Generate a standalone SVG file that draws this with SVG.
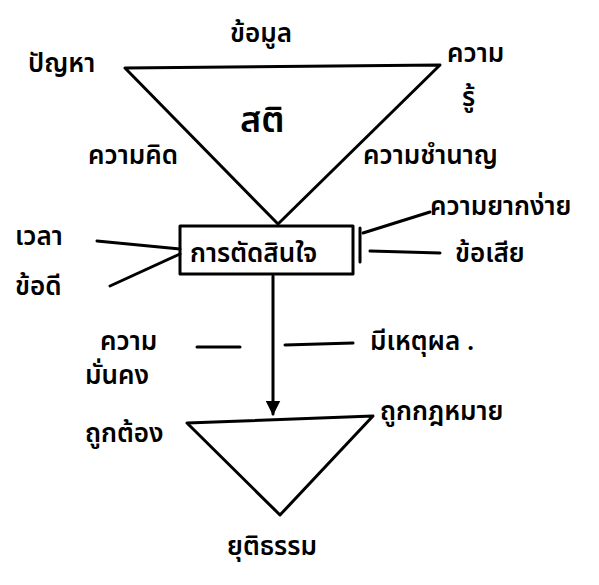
<svg xmlns="http://www.w3.org/2000/svg" width="599" height="585" viewBox="0 0 599 585">
<defs>
<style>
.t{font-family:"Noto Sans","Noto Sans Thai",sans-serif;font-size:26px;font-weight:600;fill:#000}
.l{stroke:#000;stroke-width:3;fill:none;stroke-linecap:round;stroke-linejoin:round}
</style>
<marker id="ah" viewBox="0 0 10 10" refX="9" refY="5" markerWidth="5" markerHeight="5" orient="auto"><path d="M0,0 L10,5 L0,10 z" fill="#000"/></marker>
</defs>
<rect width="599" height="585" fill="#fff"/>
<g id="connectors">
<path class="l" d="M125,68 L440,65 L278,224 Z"/>
<line class="l" x1="97" y1="241" x2="180" y2="249"/>
<line class="l" x1="110" y1="286" x2="180" y2="254"/>
<line class="l" x1="363" y1="233" x2="430" y2="212"/>
<line class="l" x1="370" y1="251" x2="440" y2="253"/>
<line class="l" x1="273" y1="276" x2="273" y2="414" marker-end="url(#ah)"/>
<line class="l" x1="197" y1="347" x2="240" y2="347"/>
<line class="l" x1="285" y1="345" x2="353" y2="343"/>
<path class="l" d="M187,423 L373,416 L280,515 Z"/>
</g>
<g id="n-problem"><text class="t" x="28" y="72">ปัญหา</text></g>
<g id="n-info"><text class="t" x="230" y="42">ข้อมูล</text></g>
<g id="n-knowledge"><text class="t" x="447" y="62">ความ</text><text class="t" x="462" y="106">รู้</text></g>
<g id="n-center"><text class="t" x="240" y="132" style="font-size:36px">สติ</text></g>
<g id="n-thinking"><text class="t" x="88" y="164">ความคิด</text></g>
<g id="n-expertise"><text class="t" x="363" y="164">ความชำนาญ</text></g>
<g id="n-decision">
<rect class="l" x="180" y="226" width="173" height="48"/>
<line class="l" x1="360" y1="228" x2="360" y2="262"/>
<text class="t" x="190" y="262">การตัดสินใจ</text>
</g>
<g id="n-time"><text class="t" x="15" y="245">เวลา</text></g>
<g id="n-pros"><text class="t" x="15" y="295">ข้อดี</text></g>
<g id="n-ease"><text class="t" x="430" y="215">ความยากง่าย</text></g>
<g id="n-cons"><text class="t" x="455" y="262">ข้อเสีย</text></g>
<g id="n-stability"><text class="t" x="100" y="350">ความ</text><text class="t" x="85" y="384">มั่นคง</text></g>
<g id="n-reason"><text class="t" x="370" y="350">มีเหตุผล .</text></g>
<g id="n-correct"><text class="t" x="85" y="442">ถูกต้อง</text></g>
<g id="n-legal"><text class="t" x="380" y="420">ถูกกฎหมาย</text></g>
<g id="n-justice"><text class="t" x="227" y="555">ยุติธรรม</text></g>
</svg>
